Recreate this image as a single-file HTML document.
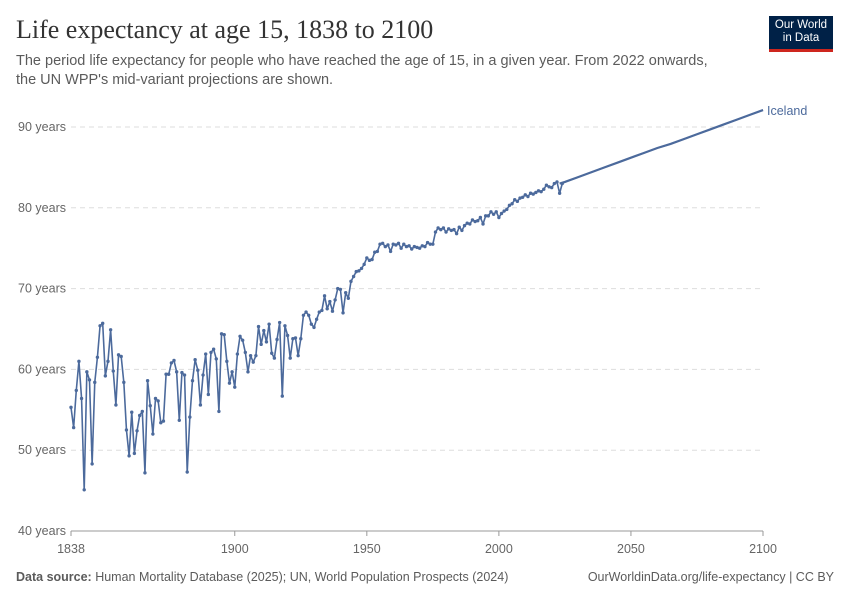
<!DOCTYPE html>
<html><head><meta charset="utf-8"><style>
body{margin:0;background:#fff;font-family:"Liberation Sans",sans-serif;}
#wrap{position:relative;width:850px;height:600px;overflow:hidden;}
</style></head><body>
<div id="wrap">
<div style="position:absolute;left:16px;top:15px;font-family:'Liberation Serif',serif;font-size:26px;color:#333;">Life expectancy at age 15, 1838 to 2100</div>
<div style="position:absolute;left:16px;top:52px;width:712px;font-size:14.5px;line-height:19px;color:#5b5b5b;">The period life expectancy for people who have reached the age of 15, in a given year. From 2022 onwards, the UN WPP's mid-variant projections are shown.</div>
<div style="position:absolute;left:769px;top:16px;width:64px;height:36px;background:#002147;border-bottom:3px solid #ce261e;color:#fff;font-size:11.5px;line-height:13px;text-align:center;padding-top:3px;box-sizing:border-box;">Our World<br>in Data</div>
<svg id="chart" width="850" height="600" style="position:absolute;left:0;top:0"></svg>
<div style="position:absolute;left:16px;top:570px;font-size:12.5px;color:#5b5b5b;"><b>Data source:</b> Human Mortality Database (2025); UN, World Population Prospects (2024)</div>
<div style="position:absolute;right:16px;top:570px;font-size:12.5px;color:#5b5b5b;">OurWorldinData.org/life-expectancy | CC BY</div>
</div>
<script>
const yTicks=[40,50,60,70,80,90];
const xTicks=[1838,1900,1950,2000,2050,2100];
const histStart=1838;
const histValues=[55.3,52.8,57.4,61.0,56.4,45.1,59.7,58.7,48.3,58.4,61.5,65.4,65.7,59.2,61.0,64.9,59.8,55.6,61.8,61.6,58.4,52.5,49.3,54.7,49.6,52.4,54.3,54.8,47.2,58.6,55.5,52.0,56.4,56.1,53.4,53.6,59.4,59.4,60.8,61.1,59.7,53.7,59.6,59.3,47.3,54.1,58.6,61.2,59.9,55.6,59.3,61.9,56.9,62.1,62.5,61.3,54.8,64.4,64.3,61.0,58.3,59.7,57.8,61.9,64.1,
63.6,62.1,59.7,61.7,60.9,61.7,65.3,63.1,64.8,63.4,65.6,62.0,61.4,63.7,65.8,56.7,65.4,64.2,61.4,63.8,63.9,61.7,63.8,66.7,67.1,66.7,65.6,65.2,66.2,67.1,67.3,69.1,67.5,68.4,67.2,68.6,70.0,69.9,67.0,69.5,68.8,70.9,71.5,72.1,72.2,
72.5,73.0,73.8,73.5,73.6,74.5,74.6,75.5,75.6,75.2,75.4,74.6,75.5,75.4,75.6,75.0,75.5,75.2,75.3,74.9,75.2,75.1,75.0,75.3,75.2,75.7,75.5,75.5,77.0,77.5,77.3,77.5,77.0,77.4,77.2,77.3,76.8,77.6,77.2,77.8,78.1,78.0,78.5,78.3,78.4,78.8,78.0,79.0,79.0,79.5,79.2,79.5,78.8,79.3,79.6,79.8,80.3,80.5,81.0,80.8,81.2,81.3,81.6,81.4,81.8,81.7,81.9,82.1,82.0,82.3,82.8,82.6,82.5,83.0,83.2,81.8,83.0];
const projYears=[2023,2025,2030,2035,2040,2045,2050,2055,2060,2065,2070,2075,2080,2085,2090,2095,2100];
const projValues=[83.0,83.2,83.8,84.4,85.0,85.6,86.2,86.8,87.4,87.9,88.5,89.1,89.7,90.3,90.9,91.5,92.1];
const NS="http://www.w3.org/2000/svg";
const svg=document.getElementById('chart');
const X=y=>71+(y-1838)*(763-71)/(2100-1838);
const Y=v=>531-(v-40)*(531-127)/50;
function mk(t,a){const e=document.createElementNS(NS,t);for(const k in a)e.setAttribute(k,a[k]);svg.appendChild(e);return e;}
yTicks.forEach(v=>{
 if(v>40){const g=mk('line',{x1:71,x2:763,y1:Y(v),y2:Y(v),stroke:'#ddd','stroke-dasharray':'5,4'});
 
 }
 const t=mk('text',{x:66,y:Y(v)+4,'text-anchor':'end','font-size':'12.5','fill':'#666','font-family':'Liberation Sans'});
 t.textContent=v+' years';
 
 
});
const ax=mk('line',{x1:71,x2:763,y1:531,y2:531,stroke:'#999'});


xTicks.forEach(yr=>{
 const l=mk('line',{x1:X(yr),x2:X(yr),y1:531,y2:536,stroke:'#999'});
 
 
 const t=mk('text',{x:X(yr),y:553,'text-anchor':'middle','font-size':'12.5','fill':'#666','font-family':'Liberation Sans'});
 t.textContent=yr;
 
 
});
let pts=histValues.map((v,i)=>[X(histStart+i),Y(v)]);
let proj=projYears.map((yr,i)=>[X(yr),Y(projValues[i])]);
const all=pts.concat(proj.slice(1));
const line=mk('polyline',{points:all.map(p=>p.join(',')).join(' '),fill:'none',stroke:'#4c6a9c','stroke-width':'1.6','stroke-linejoin':'round'});


const pl=mk('polyline',{points:proj.map(p=>p.join(',')).join(' '),fill:'none',stroke:'#4c6a9c','stroke-width':'2.2'});


pts.forEach(p=>{const c=mk('circle',{cx:p[0],cy:p[1],r:1.7,fill:'#4c6a9c'});
 
 });
const lab=mk('text',{x:767,y:Y(projValues[projValues.length-1])+5,'font-size':'12.5','fill':'#4c6a9c','font-family':'Liberation Sans'});
lab.textContent='Iceland';


</script>
</body></html>
